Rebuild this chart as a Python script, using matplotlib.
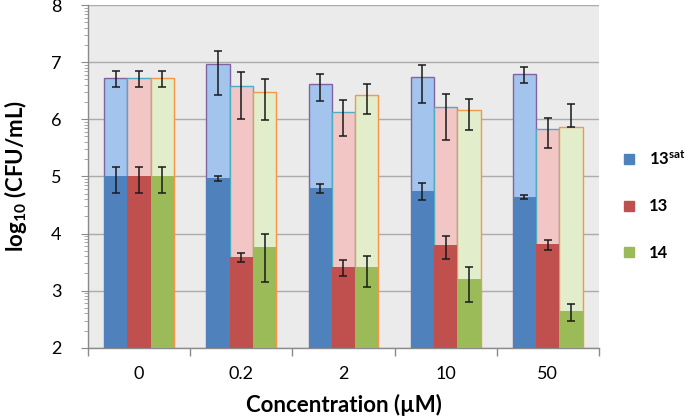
import numpy as np
import matplotlib
matplotlib.use("Agg")
import matplotlib.pyplot as plt
from matplotlib.lines import Line2D

plt.rcParams['font.family'] = ['Lato', 'DejaVu Sans']
plt.rcParams['mathtext.fontset'] = 'custom'
plt.rcParams['mathtext.rm'] = 'Lato'
plt.rcParams['mathtext.bf'] = 'Lato:bold'
plt.rcParams['mathtext.it'] = 'Lato:italic'

categories = ["0", "0.2", "2", "10", "50"]
series = ["13$^{\\mathbf{sat}}$", "13", "14"]

# upper (light) bars
upper_13sat = [6.73, 6.97, 6.61, 6.74, 6.80]
upper_13 = [6.73, 6.59, 6.12, 6.21, 5.83]
upper_14 = [6.73, 6.47, 6.43, 6.16, 5.87]
upper_err_plus_13sat = [0.12, 0.23, 0.18, 0.21, 0.11]
upper_err_plus_13 = [0.12, 0.24, 0.21, 0.23, 0.19]
upper_err_plus_14 = [0.12, 0.23, 0.19, 0.19, 0.39]
upper_err_minus_13sat = [0.16, 0.54, 0.29, 0.45, 0.17]
upper_err_minus_13 = [0.16, 0.58, 0.41, 0.58, 0.33]
upper_err_minus_14 = [0.16, 0.49, 0.33, 0.35, 0.0]

# lower (dark) bars
lower_13sat = [5.00, 4.97, 4.79, 4.75, 4.64]
lower_13 = [5.00, 3.59, 3.42, 3.80, 3.81]
lower_14 = [5.00, 3.77, 3.42, 3.21, 2.64]
lower_err_plus_13sat = [0.16, 0.04, 0.08, 0.14, 0.04]
lower_err_plus_13 = [0.16, 0.07, 0.11, 0.16, 0.07]
lower_err_plus_14 = [0.16, 0.23, 0.18, 0.21, 0.13]
lower_err_minus_13sat = [0.29, 0.05, 0.08, 0.17, 0.04]
lower_err_minus_13 = [0.29, 0.08, 0.16, 0.24, 0.10]
lower_err_minus_14 = [0.29, 0.62, 0.36, 0.40, 0.18]

dark_colors = ["#4F81BD", "#C0504D", "#9BBB59"]
light_colors = ["#A3C4EC", "#F3C6C6", "#E2EDCB"]
light_edges = ["#8064A2", "#4BACC6", "#F79646"]

uppers = [upper_13sat, upper_13, upper_14]
up_plus = [upper_err_plus_13sat, upper_err_plus_13, upper_err_plus_14]
up_minus = [upper_err_minus_13sat, upper_err_minus_13, upper_err_minus_14]
lowers = [lower_13sat, lower_13, lower_14]
lo_plus = [lower_err_plus_13sat, lower_err_plus_13, lower_err_plus_14]
lo_minus = [lower_err_minus_13sat, lower_err_minus_13, lower_err_minus_14]

fig = plt.figure(figsize=(6.86, 4.17), dpi=100)
ax = fig.add_axes([0.1283, 0.166, 0.7447, 0.822])
ax.set_facecolor("#EBEBEB")

x = np.arange(len(categories))
w = 0.228
offsets = [-w, 0, w]
err_kw = dict(ecolor="#1a1a1a", elinewidth=1.1, capsize=2.8, capthick=1.1)

for i in range(3):
    ax.bar(x + offsets[i], uppers[i], width=w, color=light_colors[i],
           edgecolor=light_edges[i], linewidth=1.0, zorder=2,
           yerr=[up_minus[i], up_plus[i]], error_kw=err_kw)
for i in range(3):
    ax.bar(x + offsets[i], lowers[i], width=w, color=dark_colors[i],
           edgecolor="none", linewidth=0, zorder=3,
           yerr=[lo_minus[i], lo_plus[i]], error_kw=dict(err_kw, zorder=4))

ax.set_ylim(2, 8)
ax.set_xlim(-0.5, len(categories) - 0.5)
ax.set_yticks(range(2, 9))
ax.yaxis.grid(True, color="#ABABAB", linewidth=1.0, zorder=1)
ax.set_axisbelow(True)

minor = [n + np.log10(k) for n in range(2, 8) for k in range(2, 10)]
ax.set_yticks(minor, minor=True)
ax.tick_params(axis='y', which='minor', length=3, color="#9A9A9A", width=0.6)
ax.tick_params(axis='y', which='major', length=5, color="#8A8A8A", labelsize=13, pad=14)

ax.set_xticks(x)
ax.set_xticklabels(categories)
ax.set_xticks(np.arange(-0.5, len(categories), 1.0), minor=True)
ax.tick_params(axis='x', which='major', length=0, labelsize=13, pad=13)
ax.tick_params(axis='x', which='minor', length=6, color="#8A8A8A", width=1.0)

for s in ["top", "right"]:
    ax.spines[s].set_visible(False)
for s in ["left", "bottom"]:
    ax.spines[s].set_color("#8A8A8A")
    ax.spines[s].set_linewidth(1.0)

ax.set_xlabel("Concentration (µM)", fontsize=16, fontweight="bold", labelpad=9)
ax.set_ylabel("log$_{\\mathbf{10}}$ (CFU/mL)", fontsize=16, fontweight="bold", labelpad=16)

handles = [Line2D([], [], marker='s', linestyle='none', markersize=7,
                  markerfacecolor=c, markeredgecolor=c) for c in dark_colors]
leg = fig.legend(handles, series, loc="upper left", bbox_to_anchor=(0.902, 0.643),
                 frameon=False, labelspacing=1.85, handletextpad=0.6, handlelength=1.2,
                 borderpad=0, borderaxespad=0,
                 prop=dict(family='Lato', weight='bold', size=12))

fig.savefig("out.png", dpi=100)
